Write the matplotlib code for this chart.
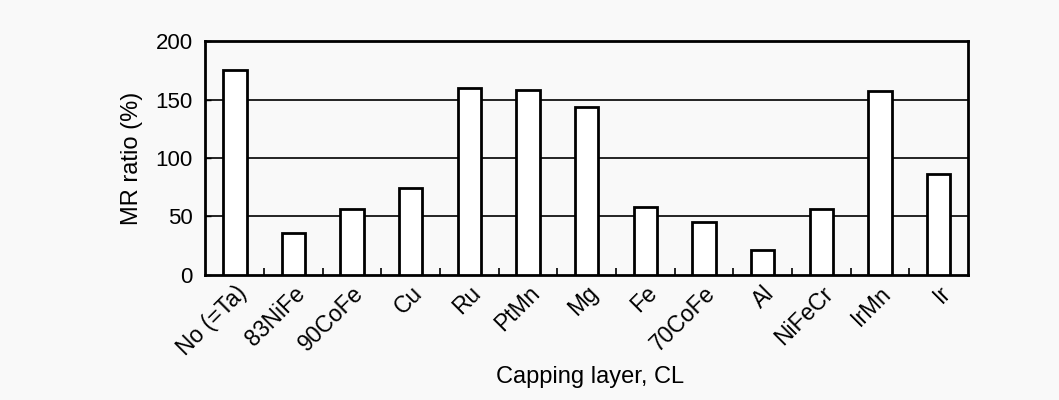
import numpy as np
import matplotlib.pyplot as plt

plt.rcParams['font.family'] = ['Liberation Sans', 'DejaVu Sans']

# 数据
layers = ['No (=Ta)', '83NiFe', '90CoFe', 'Cu', 'Ru', 'PtMn', 'Mg',
          'Fe', '70CoFe', 'Al', 'NiFeCr', 'IrMn', 'Ir']
mr_ratio = [175, 36, 56, 74, 160, 158, 144, 58, 45, 21, 56, 157, 86]
y_ticks = [0, 50, 100, 150, 200]

fig = plt.figure(figsize=(10.59, 4), dpi=100, facecolor='#f9f9f9')
ax = fig.add_axes([0.194, 0.313, 0.72, 0.584])
ax.set_facecolor('#f9f9f9')

x = np.arange(len(layers))
ax.bar(x, mr_ratio, width=0.4, color='white', edgecolor='black', linewidth=2, zorder=3)

# 网格线
for v in [50, 100, 150]:
    ax.axhline(v, color='black', linewidth=1.2, zorder=1)

ax.set_xlim(-0.5, len(layers) - 0.5)
ax.set_ylim(0, 200)
ax.set_yticks(y_ticks)
ax.set_yticklabels([str(v) for v in y_ticks], fontsize=16)
ax.tick_params(axis='y', direction='in', length=4, width=1, pad=9)

ax.set_xticks(x)
ax.set_xticklabels(layers, rotation=45, ha='right', rotation_mode='anchor', fontsize=16.5)
ax.tick_params(axis='x', length=0, pad=5)
ax.set_xticks(np.arange(len(layers) - 1) + 0.5, minor=True)
ax.tick_params(axis='x', which='minor', direction='in', length=5, width=1.2)

for s in ax.spines.values():
    s.set_linewidth(2)

ax.set_ylabel('MR ratio (%)', fontsize=17, va='center')
ax.yaxis.set_label_coords(-0.096, 0.5)
ax.set_xlabel('Capping layer, CL', fontsize=17, va='center')
ax.xaxis.set_label_coords(0.504, -0.438)

plt.savefig('out.png', dpi=100, facecolor=fig.get_facecolor())
